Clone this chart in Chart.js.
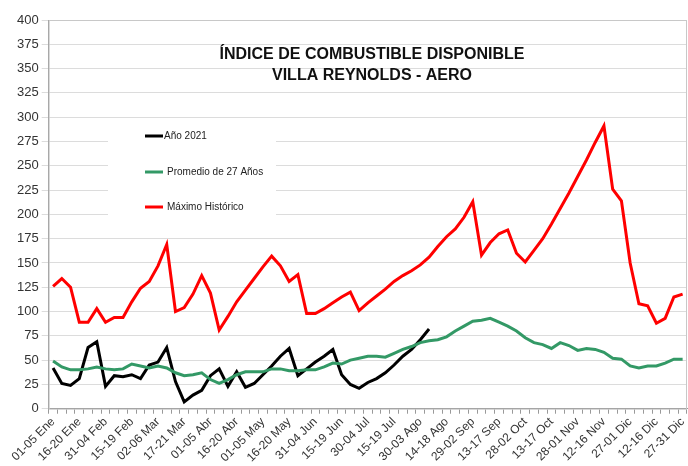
<!DOCTYPE html>
<html>
<head>
<meta charset="utf-8">
<script src="https://cdn.jsdelivr.net/npm/chart.js@4.4.0/dist/chart.umd.min.js"></script>
<style>
    body { margin: 0; background: #fff; }
    #wrap { width: 688px; height: 466px; }
</style>
</head>
<body>
<div id="wrap"><canvas id="fuelChart" width="688" height="466"></canvas></div>
<script>
// Pentads of the year (5-day periods), only every third one gets a label on the axis
const pentads = [
    "01-05 Ene", "06-10 Ene", "11-15 Ene", "16-20 Ene", "21-25 Ene", "26-30 Ene", "31-04 Feb",
    "05-09 Feb", "10-14 Feb", "15-19 Feb", "20-24 Feb", "25-01 Mar",
    "02-06 Mar", "07-11 Mar", "12-16 Mar", "17-21 Mar", "22-26 Mar", "27-31 Mar",
    "01-05 Abr", "06-10 Abr", "11-15 Abr", "16-20 Abr", "21-25 Abr", "26-30 Abr",
    "01-05 May", "06-10 May", "11-15 May", "16-20 May", "21-25 May", "26-30 May", "31-04 Jun",
    "05-09 Jun", "10-14 Jun", "15-19 Jun", "20-24 Jun", "25-29 Jun", "30-04 Jul",
    "05-09 Jul", "10-14 Jul", "15-19 Jul", "20-24 Jul", "25-29 Jul", "30-03 Ago",
    "04-08 Ago", "09-13 Ago", "14-18 Ago", "19-23 Ago", "24-28 Ago", "29-02 Sep",
    "03-07 Sep", "08-12 Sep", "13-17 Sep", "18-22 Sep", "23-27 Sep", "28-02 Oct",
    "03-07 Oct", "08-12 Oct", "13-17 Oct", "18-22 Oct", "23-27 Oct", "28-01 Nov",
    "02-06 Nov", "07-11 Nov", "12-16 Nov", "17-21 Nov", "22-26 Nov", "27-01 Dic",
    "02-06 Dic", "07-11 Dic", "12-16 Dic", "17-21 Dic", "22-26 Dic", "27-31 Dic"
];

// Año 2021 (data stops at 30-03 Ago)
const year2021 = [
    42, 26, 24, 31, 63, 69, 23, 34, 33, 35, 31, 45, 48, 63, 28, 7, 14, 19, 34, 41, 23, 38, 22, 26,
    35, 44, 54, 62, 34, 41, 48, 54, 61, 35, 25, 21, 27, 31, 37, 45, 54, 61, 71, 82
];

// Promedio de 27 años
const average27 = [
    49, 43, 40, 40, 41, 43, 41, 40, 41, 46, 44, 42, 44, 42, 37, 34, 35, 37, 30, 26, 30, 35, 38, 38,
    38, 41, 41, 39, 39, 40, 40, 43, 47, 46, 50, 52, 54, 54, 53, 57, 61, 64, 68, 70, 71, 74, 80, 85, 90,
    91, 93, 89, 85, 80, 73, 68, 66, 62, 68, 65, 60, 62, 61, 58, 52, 51, 44, 42, 44, 44, 47, 51, 51
];

// Máximo histórico
const historicMax = [
    126, 134, 125, 89, 89, 103, 89, 94, 94, 110, 124, 131, 147, 169, 100, 104, 118, 137, 119, 81, 95, 110, 122, 134,
    146, 157, 147, 131, 138, 98, 98, 103, 109, 115, 120, 101, 109, 116, 123, 131, 137, 142, 148, 156, 167, 177, 185, 197, 213,
    158, 171, 180, 184, 160, 151, 163, 175, 190, 206, 222, 239, 256, 274, 291, 226, 214, 150, 108, 106, 88, 93, 115, 118
];

const titleLines = ["ÍNDICE DE COMBUSTIBLE DISPONIBLE", "VILLA REYNOLDS - AERO"];

const FONT = "'Liberation Sans', Arial, sans-serif";

// white page behind everything
const whiteBackground = {
    id: 'whiteBackground',
    beforeDraw(chart) {
        const ctx = chart.ctx;
        ctx.save();
        ctx.fillStyle = '#ffffff';
        ctx.fillRect(0, 0, chart.width, chart.height);
        ctx.restore();
    }
};

// plot frame + legend box inside the plot (like the excel one)
const plotExtras = {
    id: 'plotExtras',
    beforeDatasetsDraw(chart) {
        const ctx = chart.ctx;
        const area = chart.chartArea;
        ctx.save();
        ctx.strokeStyle = '#c8c8c8';
        ctx.lineWidth = 1;
        ctx.strokeRect(area.left + 0.5, area.top + 0.5, area.right - area.left - 1, area.bottom - area.top);

        // legend box, covers the gridlines
        ctx.fillStyle = '#ffffff';
        ctx.fillRect(108, 121, 168, 104);

        const rows = [136, 172, 207];
        chart.data.datasets.forEach((ds, i) => {
            ctx.strokeStyle = ds.borderColor;
            ctx.lineWidth = 3;
            ctx.beginPath();
            ctx.moveTo(145, rows[i]);
            ctx.lineTo(163, rows[i]);
            ctx.stroke();
            ctx.fillStyle = '#222';
            ctx.font = '10px ' + FONT;
            ctx.textBaseline = 'middle';
            ctx.textAlign = 'left';
            ctx.fillText(ds.label, i === 0 ? 164 : 167, rows[i]);
        });
        ctx.restore();
    },
    afterDraw(chart) {
        const ctx = chart.ctx;
        ctx.save();
        ctx.fillStyle = '#111';
        ctx.font = 'bold 16px ' + FONT;
        ctx.textAlign = 'center';
        ctx.textBaseline = 'middle';
        ctx.fillText(titleLines[0], 372, 55);
        ctx.fillText(titleLines[1], 372, 76);
        ctx.restore();
    }
};

let chart = new Chart(document.getElementById('fuelChart'), {
    type: 'line',
    data: {
        labels: pentads,
        datasets: [
            {
                label: 'Año 2021',
                data: year2021,
                borderColor: '#000000',
                borderWidth: 3,
                order: 3
            },
            {
                label: 'Promedio de 27 Años',
                data: average27,
                borderColor: '#339966',
                borderWidth: 3,
                order: 2
            },
            {
                label: 'Máximo Histórico',
                data: historicMax,
                borderColor: '#ff0000',
                borderWidth: 3,
                order: 1
            }
        ]
    },
    options: {
        responsive: false,
        animation: false,
        layout: {
            padding: {left: 14, top: 20, right: 1, bottom: 0}
        },
        elements: {
            point: {radius: 0},
            line: {tension: 0, fill: false}
        },
        plugins: {
            legend: {display: false},
            title: {display: false},
            tooltip: {enabled: false}
        },
        scales: {
            x: {
                type: 'category',
                offset: true,
                grid: {
                    offset: true,
                    drawOnChartArea: false,
                    tickLength: 5,
                    color: '#999'
                },
                border: {color: '#999'},
                ticks: {
                    autoSkip: false,
                    maxRotation: 45,
                    minRotation: 45,
                    color: '#333',
                    font: {family: FONT, size: 12},
                    padding: 1,
                    callback: function (value, index) {
                        return index % 3 === 0 ? this.getLabelForValue(value) : '';
                    }
                },
                // the last rotated label asks for room on the right, plot runs to the edge instead
                afterFit: function (scale) {
                    scale.paddingRight = 0;
                }
            },
            y: {
                min: 0,
                max: 400,
                grid: {
                    color: '#dcdcdc',
                    tickLength: 7
                },
                border: {color: '#999'},
                ticks: {
                    stepSize: 25,
                    color: '#333',
                    padding: 3,
                    font: {family: FONT, size: 13}
                }
            }
        }
    },
    plugins: [whiteBackground, plotExtras]
});
</script>
</body>
</html>
